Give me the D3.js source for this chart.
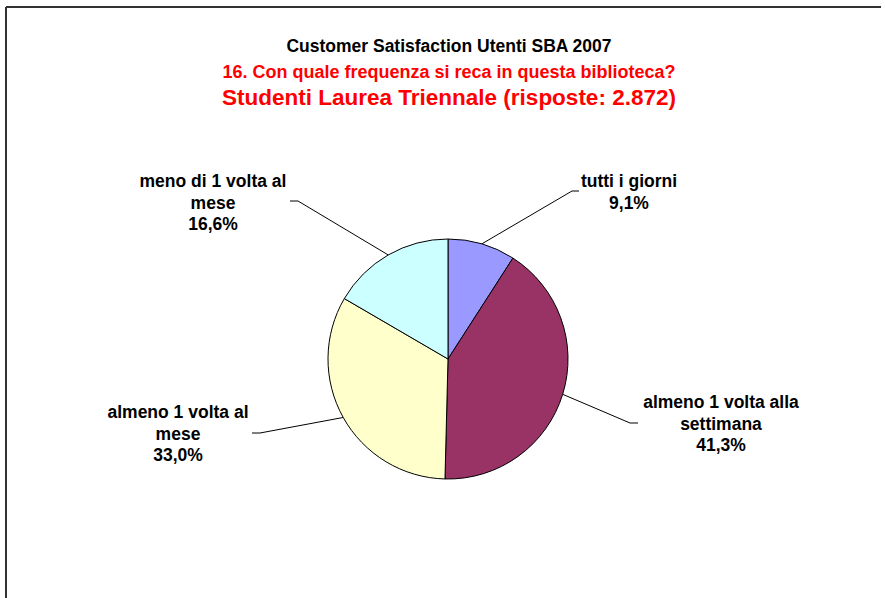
<!DOCTYPE html>
<html><head><meta charset="utf-8">
<script src="https://cdn.jsdelivr.net/npm/d3@7"></script>
<style>body{margin:0;background:#fff}svg{display:block}text{font-family:"Liberation Sans",Arial,sans-serif;font-weight:bold}</style>
</head><body>
<script>
const categories = ["tutti i giorni", "almeno 1 volta alla settimana", "almeno 1 volta al mese", "meno di 1 volta al mese"];
const values = [9.1, 41.3, 33.0, 16.6];
const labelLines = [["tutti i giorni"], ["almeno 1 volta alla", "settimana"], ["almeno 1 volta al", "mese"], ["meno di 1 volta al", "mese"]];
const colors = ["#9999FF", "#993366", "#FFFFCC", "#CCFFFF"];
const titles = ["Customer Satisfaction Utenti SBA 2007", "16. Con quale frequenza si reca in questa biblioteca?", "Studenti Laurea Triennale (risposte: 2.872)"];

const W = 885, H = 598;
const svg = d3.select("body").append("svg").attr("width", W).attr("height", H);

// frame
svg.append("line").attr("x1", 6).attr("y1", 7).attr("x2", 881).attr("y2", 7).attr("stroke", "#333").attr("stroke-width", 2);
svg.append("line").attr("x1", 6).attr("y1", 7).attr("x2", 6).attr("y2", H).attr("stroke", "#333").attr("stroke-width", 2);

// titles
const tcfg = [{y: 52, size: 17.5, fill: "#000"}, {y: 78, size: 18, fill: "#FF0000"}, {y: 105, size: 22.5, fill: "#FF0000"}];
titles.forEach((t, i) => {
  svg.append("text").attr("x", 449).attr("y", tcfg[i].y).attr("text-anchor", "middle")
    .attr("font-size", tcfg[i].size).attr("fill", tcfg[i].fill).text(t);
});

const cx = 448, cy = 359, r = 120;
const pie = d3.pie().sort(null).value(d => d)(values);
const arc = d3.arc().innerRadius(0).outerRadius(r);
const g = svg.append("g").attr("transform", `translate(${cx},${cy})`);
g.selectAll("path.slice").data(pie).enter().append("path")
  .attr("d", arc).attr("fill", (d, i) => colors[i]).attr("stroke", "#000").attr("stroke-width", 1);

// label layout: elbow (absolute), horizontal end, text center & first baseline
const layout = [
  {elbow: [572, 191], end: [579, 191], tx: 629, ty: 187},
  {elbow: [630, 423], end: [638, 423], tx: 721, ty: 408},
  {elbow: [260, 433], end: [252, 433], tx: 178, ty: 418},
  {elbow: [298, 201], end: [290, 201], tx: 213, ty: 187}
];
const fmt = v => v.toFixed(1).replace(".", ",") + "%";
pie.forEach((d, i) => {
  const a = (d.startAngle + d.endAngle) / 2;
  const p = [cx + r * Math.sin(a), cy - r * Math.cos(a)];
  const L = layout[i];
  svg.append("polyline").attr("points", [p, L.elbow, L.end].map(q => q.join(",")).join(" "))
    .attr("fill", "none").attr("stroke", "#000").attr("stroke-width", 1);
  const lines = labelLines[i].concat([fmt(values[i])]);
  const t = svg.append("text").attr("text-anchor", "middle").attr("font-size", 17.5).attr("fill", "#000");
  lines.forEach((s, j) => t.append("tspan").attr("x", L.tx).attr("y", L.ty + j * 21.5).text(s));
});
</script>
</body></html>
